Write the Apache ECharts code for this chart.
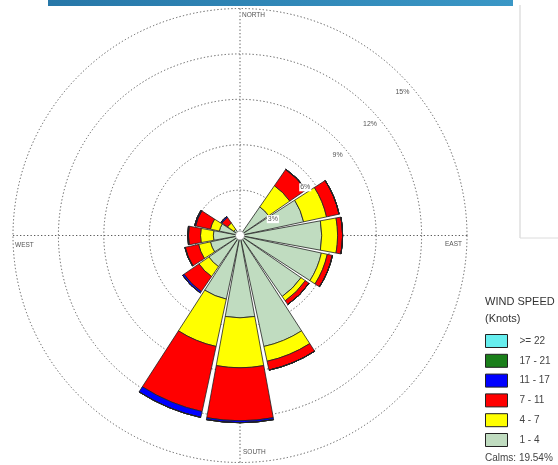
<!DOCTYPE html>
<html>
<head>
<meta charset="utf-8">
<script src="https://cdn.jsdelivr.net/npm/echarts@6/dist/echarts.min.js"></script>
<style>
html,body{margin:0;padding:0;background:#fff;}
#chart{width:558px;height:465px;}
</style>
</head>
<body>
<div id="chart"></div>
<script>
// ---- data (percent of observations) ----
const directions = ['N','NNE','NE','ENE','E','ESE','SE','SSE','S','SSW','SW','WSW','W','WNW','NW','NNW'];
const speedBins = ['1 - 4','4 - 7','7 - 11','11 - 17','17 - 21','>= 22'];
const freq1to4   = [0, 0, 2.3, 4.3, 5.4, 5.5, 4.9, 7.5, 5.44, 4.3, 2.5, 2.0, 1.76, 1.4, 0.5, 0];
const freq4to7   = [0, 0, 1.7, 1.55, 1.05, 0.4, 0.35, 1.0, 3.3, 3.2, 0.8, 0.8, 0.85, 0.6, 0.5, 0];
const freq7to11  = [0, 0, 1.3, 0.85, 0.33, 0.35, 0.3, 0.6, 3.5, 4.4, 1.2, 0.9, 0.8, 1.0, 0.45, 0];
const freq11to17 = [0, 0, 0.03, 0, 0, 0, 0, 0, 0.13, 0.4, 0.12, 0.03, 0.05, 0.07, 0.08, 0];
const freq17to21 = [0, 0, 0, 0, 0, 0, 0, 0, 0, 0, 0, 0, 0, 0, 0, 0];
const freq22plus = [0, 0, 0, 0, 0, 0, 0, 0, 0, 0, 0, 0, 0, 0, 0, 0];
const binColors  = ['#c0dcc0', '#ffff00', '#ff0000', '#0000ff', '#1a7f1a', '#66eeee'];
const ringMax = 15;
const ringStep = 3;
const calmsPct = 19.54;
const compassLabels = ['NORTH', 'EAST', 'SOUTH', 'WEST'];

const allFreq = [freq1to4, freq4to7, freq7to11, freq11to17, freq17to21, freq22plus];

const chart = echarts.init(document.getElementById('chart'), null, {renderer: 'canvas'});
const FONT = 'Arial, "Liberation Sans", sans-serif';
const C = [240, 235.5];
const R = 227;
const dotted = {color: '#5a5a5a', width: 1, type: [1.3, 2.2]};

const series = speedBins.map((name, i) => ({
  name: name,
  type: 'bar',
  coordinateSystem: 'polar',
  polarIndex: 0,
  stack: 'rose',
  barCategoryGap: '8%',
  data: allFreq[i],
  itemStyle: {color: binColors[i], borderColor: '#222', borderWidth: 0.8},
  emphasis: {disabled: true},
  z: 3
}));

const option = {
  animation: false,
  backgroundColor: '#ffffff',
  title: {
    text: 'WIND SPEED\n(Knots)',
    left: 485, top: 293, padding: 0,
    textStyle: {fontFamily: FONT, fontSize: 11, fontWeight: 'normal', color: '#333', lineHeight: 17}
  },
  legend: {
    orient: 'vertical',
    left: 485, top: 334, padding: 0,
    itemWidth: 22, itemHeight: 13, itemGap: 5.8,
    icon: 'rect',
    selectedMode: false,
    data: speedBins.slice().reverse(),
    itemStyle: {borderColor: '#222', borderWidth: 1},
    textStyle: {fontFamily: FONT, fontSize: 10, color: '#444', lineHeight: 13, padding: [0, 0, 0, 7]}
  },
  polar: [
    {center: C, radius: R},
    {center: C, radius: R},
    {center: [C[0] + 0.5, C[1] + 15.5], radius: R}
  ],
  angleAxis: [
    {polarIndex: 0, type: 'category', data: directions, startAngle: 90 + 360 / directions.length / 2, clockwise: true,
     boundaryGap: true, axisLine: {show: false}, axisTick: {show: false}, axisLabel: {show: false}, splitLine: {show: false}},
    {polarIndex: 1, type: 'value', min: 0, max: 360, interval: 90, startAngle: 90,
     axisLine: {show: false}, axisTick: {show: false}, axisLabel: {show: false}, splitLine: {show: true, lineStyle: dotted}},
    {polarIndex: 2, type: 'value', min: 0, max: 360, startAngle: 44.5, show: false}
  ],
  radiusAxis: [
    {polarIndex: 0, type: 'value', min: 0, max: ringMax, show: false},
    {polarIndex: 1, type: 'value', min: 0, max: ringMax, interval: ringStep,
     axisLine: {show: false}, axisTick: {show: false}, axisLabel: {show: false}, splitLine: {show: true, lineStyle: dotted}},
    {polarIndex: 2, type: 'value', min: 0, max: ringMax, interval: ringStep, z: 20,
     axisLine: {show: false}, axisTick: {show: false}, splitLine: {show: false},
     axisLabel: {show: true, showMinLabel: false, showMaxLabel: true, margin: 0, align: 'center', verticalAlign: 'middle',
       formatter: '{value}%', fontFamily: FONT, fontSize: 7, color: '#555', backgroundColor: '#fff', padding: [1, 1, 0, 1]}}
  ],
  graphic: [
    {type: 'rect', shape: {x: 48, y: 0, width: 465, height: 6}, style: {fill: new echarts.graphic.LinearGradient(0, 0, 1, 0, [{offset: 0, color: '#2777a8'}, {offset: 1, color: '#3a97c6'}])}, z: 50},
    {type: 'line', shape: {x1: 520, y1: 5, x2: 520, y2: 238}, style: {stroke: '#cfcfcf', lineWidth: 1}, z: 50},
    {type: 'line', shape: {x1: 520, y1: 238, x2: 558, y2: 238}, style: {stroke: '#dcdcdc', lineWidth: 1}, z: 50},
    {type: 'circle', shape: {cx: C[0], cy: C[1], r: 4.5}, style: {fill: '#fff', stroke: '#888', lineWidth: 0.8}, z: 60},
    {type: 'text', x: 242, y: 15, style: {text: compassLabels[0], font: '6.5px ' + FONT, fill: '#555', textVerticalAlign: 'middle'}, z: 50},
    {type: 'text', x: 462, y: 244, style: {text: compassLabels[1], font: '6.5px ' + FONT, fill: '#555', textAlign: 'right', textVerticalAlign: 'middle'}, z: 50},
    {type: 'text', x: 243, y: 452, style: {text: compassLabels[2], font: '6.5px ' + FONT, fill: '#555', textVerticalAlign: 'middle'}, z: 50},
    {type: 'text', x: 15, y: 245, style: {text: compassLabels[3], font: '6.5px ' + FONT, fill: '#555', textVerticalAlign: 'middle'}, z: 50},
    {type: 'text', x: 485, y: 458, style: {text: 'Calms: ' + calmsPct.toFixed(2) + '%', font: '10px ' + FONT, fill: '#444', textVerticalAlign: 'middle'}, z: 50}
  ],
  series: series
};
chart.setOption(option);
</script>
</body>
</html>
